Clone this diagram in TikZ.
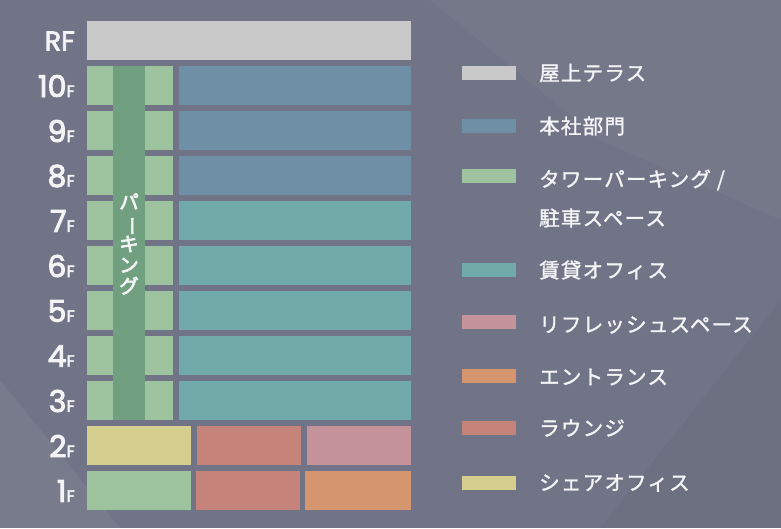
\documentclass[tikz,border=0pt]{standalone}
\usepackage{fontspec}
\usepackage{graphicx}
\setmainfont{Noto Sans CJK JP}
\newfontfamily\numfont{Poppins}[FakeBold=3]
\newfontfamily\jpfont{Noto Sans CJK JP}[LetterSpace=6,FakeBold=1.5]
\newfontfamily\vfont{Noto Sans CJK JP}[FakeBold=3.5]
\definecolor{bgc}{HTML}{707486}
\definecolor{cRF}{HTML}{C9C9CA}
\definecolor{cHQ}{HTML}{6E8FA5}
\definecolor{cPark}{HTML}{9DC49F}
\definecolor{cStrip}{HTML}{70A080}
\definecolor{cRent}{HTML}{70ABA9}
\definecolor{cShare}{HTML}{D6CE8E}
\definecolor{cLounge}{HTML}{C6837A}
\definecolor{cRefresh}{HTML}{C4949A}
\definecolor{cEntr}{HTML}{D5956F}
\definecolor{txt}{HTML}{F4F4F6}
\tikzset{
  floorlbl/.style={anchor=east, inner sep=0pt, text=txt},
  leglbl/.style={anchor=west, inner sep=0pt, text=txt, font=\jpfont\fontsize{20.5}{24}\selectfont},
}
\newcommand{\flr}[1]{{\numfont\fontsize{30}{30}\selectfont #1\fontsize{16.5}{17}\selectfont F}}
\begin{document}
\begin{tikzpicture}[x=1pt,y=-1pt]
\fill[bgc] (0,0) rectangle (781,528);
\useasboundingbox (0,0) rectangle (781,528);
% subtle background facets
\fill[white,opacity=0.05] (0,380) -- (120,528) -- (0,528) -- cycle;
\fill[white,opacity=0.03] (430,0) -- (781,0) -- (781,220) -- (600,140) -- cycle;
\fill[black,opacity=0.03] (600,528) -- (781,300) -- (781,528) -- cycle;
% roof
\fill[cRF] (87,21) rectangle (411,60);
% floors 10..3
\foreach \k in {0,...,7}{
  \pgfmathsetmacro{\yt}{66+45*\k}
  \pgfmathsetmacro{\yb}{\yt+39}
  \fill[cPark] (87,\yt) rectangle (173,\yb);
  \ifnum\k<3
    \fill[cHQ] (179,\yt) rectangle (411,\yb);
  \else
    \fill[cRent] (179,\yt) rectangle (411,\yb);
  \fi
}
\fill[cStrip] (113,66) rectangle (145,420);
\node[text=txt, inner sep=0pt, align=center, font=\vfont\fontsize{19.5}{21}\selectfont] (park) at (129,244)
  {パ\\\rotatebox[origin=c]{-90}{ー}\\キ\\ン\\グ};
% 2F
\fill[cShare] (87,426) rectangle (191,465);
\fill[cLounge] (197,426) rectangle (301,465);
\fill[cRefresh] (307,426) rectangle (411,465);
% 1F
\fill[cPark] (87,471) rectangle (191,510);
\fill[cLounge] (196,471) rectangle (300,510);
\fill[cEntr] (305,471) rectangle (411,510);
% floor labels
\node[floorlbl] (lRF) at (75,41) {{\numfont\fontsize{27}{27}\selectfont RF}};
\foreach \n [count=\i from 0] in {10,9,8,7,6,5,4,3,2,1}{
  \node[floorlbl] (l\n) at (75,86+45*\i) {\flr{\n}};
}
% legend
\foreach \c/\y [count=\i] in {cRF/73, cHQ/126, cPark/176, cRent/270, cRefresh/322, cEntr/376, cLounge/428, cShare/483}{
  \fill[\c] (462,\y-7) rectangle (516,\y+7);
}
\node[leglbl] (t1) at (539,73) {屋上テラス};
\node[leglbl] (t2) at (539,126) {本社部門};
\node[leglbl] (t3) at (539,180) {タワーパーキング /};
\node[leglbl] (t3b) at (539,218) {駐車スペース};
\node[leglbl] (t4) at (539,270) {賃貸オフィス};
\node[leglbl] (t5) at (539,325) {リフレッシュスペース};
\node[leglbl] (t6) at (539,377) {エントランス};
\node[leglbl] (t7) at (539,428) {ラウンジ};
\node[leglbl] (t8) at (539,483) {シェアオフィス};
\end{tikzpicture}
\end{document}
